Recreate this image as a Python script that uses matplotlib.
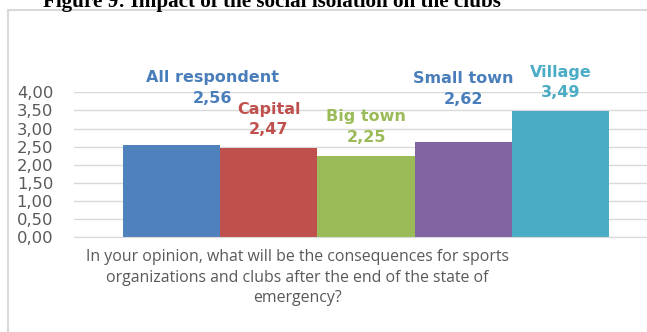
import numpy as np
import matplotlib
matplotlib.use("Agg")
import matplotlib.pyplot as plt
from matplotlib.patches import Rectangle

# survey groups and their mean scores
groups = ['All respondent', 'Capital', 'Big town', 'Small town', 'Village']
scores = [2.56, 2.47, 2.25, 2.62, 3.49]
question = ('In your opinion, what will be the consequences for sports\n'
            'organizations and clubs after the end of the state of\n'
            'emergency?')
yticks = [0.0, 0.5, 1.0, 1.5, 2.0, 2.5, 3.0, 3.5, 4.0]

bar_colors = ['#4F81BD', '#C0504D', '#9BBB59', '#8064A2', '#4BACC6']
label_colors = ['#4A7EBB', '#C0504D', '#9BBB59', '#4A7EBB', '#4BACC6']
# label offsets above bar tops, in pixels: (dx, value dy, name dy)
label_offsets = [(41, 46, 67), (0, 18, 38), (0, 18, 39), (0, 43, 64), (0, 18, 38)]

W, H = 647, 332
fig = plt.figure(figsize=(W / 100, H / 100), dpi=100)

# chart area frame, kept behind the axes
fig.patches.append(Rectangle((8 / W, -0.1), 1.2, 1.1 - 10 / H, transform=fig.transFigure,
                             facecolor='white', edgecolor='#D9D9D9', linewidth=1.5, zorder=-5))

fig.text(43 / W, 1 - 7 / H, 'Figure 9: Impact of the social isolation on the clubs',
         family='Liberation Serif', weight='bold', fontsize=15.2, va='baseline', ha='left')

ax = fig.add_axes([74 / W, 1 - 237.3 / H, 584 / W, 145 / H])
ax.set_zorder(2)
ax.patch.set_visible(False)
x = np.arange(len(groups))
bars = ax.bar(x, scores, width=1.0, color=bar_colors)
ax.set_xlim(-1, 5)
ax.set_ylim(0, 4)
ax.set_yticks(yticks)
ax.set_yticklabels([f'{v:.2f}'.replace('.', ',') for v in yticks],
                   family='DejaVu Sans', fontsize=11.8, color='#595959')
ax.set_xticks([])
ax.tick_params(axis='y', length=0, pad=15)
ax.grid(axis='y', color='#D9D9D9', linewidth=1)
ax.set_axisbelow(True)
for s in ['left', 'right', 'top']:
    ax.spines[s].set_visible(False)
ax.spines['bottom'].set_color('#D9D9D9')

for xi, v, name, c, (dx, dv, dn) in zip(x, scores, groups, label_colors, label_offsets):
    ax.annotate(f'{v:.2f}'.replace('.', ','), (xi, v), xytext=(dx, dv), textcoords='offset pixels',
                ha='center', va='center', family='DejaVu Sans', weight='bold', fontsize=11.5, color=c)
    ax.annotate(name, (xi, v), xytext=(dx, dn), textcoords='offset pixels',
                ha='center', va='center', family='DejaVu Sans', weight='bold', fontsize=11.5, color=c)

fig.text(297 / W, 1 - 277.5 / H, question, ha='center', va='center', family='Open Sans',
         fontsize=11.4, color='#595959', linespacing=1.4)

fig.savefig('out.png', dpi=100)
